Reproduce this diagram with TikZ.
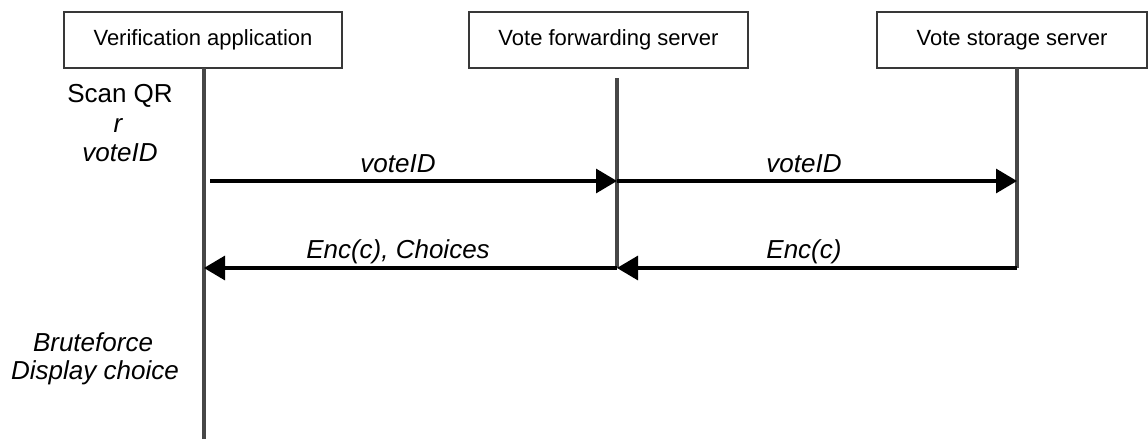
\documentclass[tikz,border=0pt]{standalone}
\usepackage{fontspec}
\setmainfont{Liberation Sans}
\usetikzlibrary{arrows.meta}
\begin{document}
\begin{tikzpicture}[x=0.5pt,y=-0.5pt,
  actor/.style={draw=black!78, line width=1.4pt, fill=white, minimum height=28pt,
    inner sep=0pt, font=\fontsize{11}{13}\selectfont},
  lifeline/.style={draw=black!72, line width=1.6pt},
  msg/.style={draw=black, line width=1.6pt, -{Triangle[length=10.5pt,width=12pt]}},
  lbl/.style={font=\fontsize{13}{15}\selectfont\itshape, inner sep=0pt, anchor=base},
  note/.style={font=\fontsize{13}{15}\selectfont, inner sep=0pt, anchor=base},
]
\useasboundingbox (0,0) rectangle (1148,439);

% participants
\node[actor, minimum width=139pt] (app) at (203,40) {Verification application};
\node[actor, minimum width=139.5pt] (fwd) at (608.5,40) {Vote forwarding server};
\node[actor, minimum width=135pt] (sto) at (1012,40) {Vote storage server};

% lifeline end points and message anchors
\coordinate (appTop) at (204,68);
\coordinate (appEnd) at (204,439);
\coordinate (fwdTop) at (617,78);
\coordinate (fwdEnd) at (617,268);
\coordinate (stoTop) at (1017,68);
\coordinate (stoEnd) at (1017,268);

\coordinate (appOut) at (210,181);
\coordinate (fwdIn)  at (617,181);
\coordinate (stoIn)  at (1017,181);
\coordinate (appIn)  at (204,268);

% lifelines
\draw[lifeline] (appTop) -- (appEnd);
\draw[lifeline] (fwdTop) -- (fwdEnd);
\draw[lifeline] (stoTop) -- (stoEnd);

% messages
\draw[msg] (appOut) -- (fwdIn);
\draw[msg] (fwdIn) -- (stoIn);
\draw[msg] (stoEnd) -- (fwdEnd);
\draw[msg] (fwdEnd) -- (appIn);

\node[lbl] (m1) at (398,172) {voteID};
\node[lbl] (m2) at (804,172) {voteID};
\node[lbl] (m3) at (804,258) {Enc(c)};
\node[lbl] (m4) at (398,258) {Enc(c), Choices};

% local steps of the verification application
\node[note] (scan) at (120,102) {Scan QR};
\node[lbl] (rr) at (118,132) {r};
\node[lbl] (vid) at (120,162) {voteID};
\node[lbl] (bf) at (93,351) {Bruteforce};
\node[lbl] (dc) at (95,379) {Display choice};
\end{tikzpicture}
\end{document}
